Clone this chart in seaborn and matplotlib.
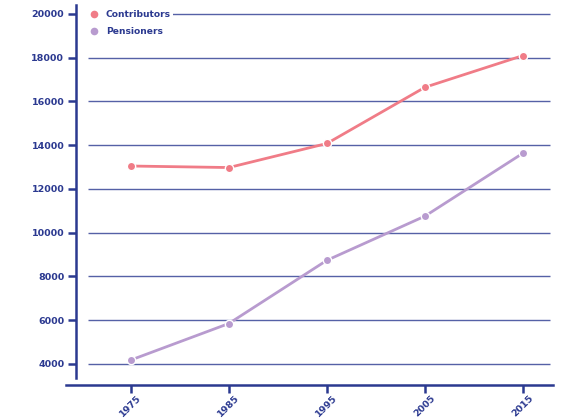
import numpy as np
import pandas as pd
import seaborn as sns
import matplotlib.pyplot as plt
from matplotlib.lines import Line2D

years = [1975, 1985, 1995, 2005, 2015]
contributors = [13050, 12980, 14080, 16650, 18100]
pensioners = [4180, 5850, 8740, 10760, 13640]
series_names = ['Contributors', 'Pensioners']
yticks = [4000, 6000, 8000, 10000, 12000, 14000, 16000, 18000, 20000]

navy = '#2b3990'
palette = {'Contributors': '#f07c87', 'Pensioners': '#b89bcf'}

df = pd.DataFrame({
    'year': years * 2,
    'value': contributors + pensioners,
    'series': [series_names[0]] * len(years) + [series_names[1]] * len(years),
})

sns.set_style('white')
plt.rcParams['font.family'] = ['DejaVu Sans']

fig = plt.figure(figsize=(5.66, 4.19), dpi=100)
ax = fig.add_axes([66 / 566, 34 / 419, 487 / 566, 380 / 419])

xmin, xmax = 1968.4, 2018.05
ymin, ymax = 3040, 20410

# grid lines that stop short of the y axis
ax.hlines(yticks, 1970.6, 2017.75, color=navy, linewidth=1, alpha=0.8, zorder=1)

sns.lineplot(data=df, x='year', y='value', hue='series', palette=palette,
             marker='o', markersize=6, markeredgecolor='white', markeredgewidth=1,
             linewidth=2, ax=ax, legend=False, zorder=3)

ax.set_xlim(xmin, xmax)
ax.set_ylim(ymin, ymax)
ax.set_xticks(years)
ax.set_yticks(yticks)
ax.set_xticks(years, minor=True)
ax.set_yticks(yticks, minor=True)
ax.set_xlabel('')
ax.set_ylabel('')

for s in ['top', 'right']:
    ax.spines[s].set_visible(False)
ax.spines['left'].set_position(('axes', 10 / 487))
ax.spines['left'].set_bounds(3360, ymax)
for s in ['left', 'bottom']:
    ax.spines[s].set_color(navy)
    ax.spines[s].set_linewidth(1.8)

ax.tick_params(axis='both', which='major', bottom=True, left=True, direction='out',
               length=5.5, width=1.8, color=navy, labelcolor=navy, labelsize=6.8, pad=3)
ax.tick_params(axis='x', which='major', pad=0.5)
ax.tick_params(axis='both', which='minor', bottom=True, left=True, direction='in',
               length=3.5, width=1.8, color=navy)
for lab in ax.get_xticklabels() + ax.get_yticklabels():
    lab.set_fontweight('bold')
plt.setp(ax.get_xticklabels(), rotation=45, ha='center')

# legend on a white box so the top grid line starts after it
handles = [Line2D([], [], linestyle='none', marker='o', markersize=5.5,
                  markerfacecolor=palette[n], markeredgecolor='none') for n in series_names]
leg = ax.legend(handles, series_names, loc='upper left', bbox_to_anchor=(0.035, 1.003),
                frameon=True, facecolor='white', edgecolor='none', framealpha=1,
                fancybox=False, fontsize=6.6, handletextpad=0.8, labelspacing=0.85,
                handlelength=1.0, borderpad=0.2)
for t in leg.get_texts():
    t.set_color(navy)
    t.set_fontweight('semibold')
leg.set_zorder(5)

fig.savefig('out.png', dpi=100)
